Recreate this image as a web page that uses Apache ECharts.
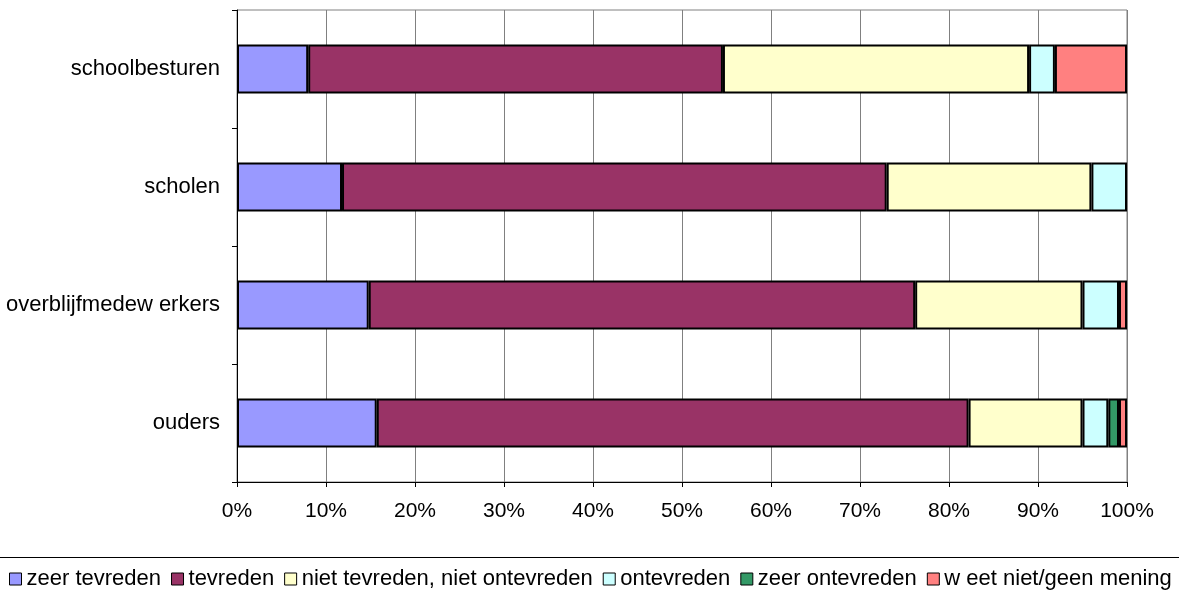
<!DOCTYPE html>
<html>
<head>
<meta charset="utf-8">
<script src="https://cdn.jsdelivr.net/npm/echarts@6/dist/echarts.min.js"></script>
<style>
  html, body { margin: 0; padding: 0; background: #fff; }
  #main { width: 1179px; height: 596px; }
</style>
</head>
<body>
<div id="main"></div>
<script>
// categories from bottom to top
var groups = ["ouders", "overblijfmedew erkers", "scholen", "schoolbesturen"];
var xTicks = [0, 10, 20, 30, 40, 50, 60, 70, 80, 90, 100];

var zeerTevreden = [15.7, 14.8, 11.8, 8.0];
var tevreden = [66.5, 61.4, 61.2, 46.6];
var nietNiet = [12.8, 18.8, 23.0, 34.4];
var ontevreden = [2.9, 4.1, 4.0, 2.9];
var zeerOntevreden = [1.2, "-", "-", "-"];
var weetNiet = [0.9, 0.9, "-", 8.1];

var seriesNames = ["zeer tevreden", "tevreden", "niet tevreden, niet ontevreden", "ontevreden", "zeer ontevreden", "w eet niet/geen mening"];
var seriesData = [zeerTevreden, tevreden, nietNiet, ontevreden, zeerOntevreden, weetNiet];
var colors = ["#9999FF", "#993366", "#FFFFCC", "#CCFFFF", "#339966", "#FF8080"];

var font = "'Liberation Sans', Arial, sans-serif";

var chart = echarts.init(document.getElementById("main"));
chart.setOption({
  animation: false,
  textStyle: { fontFamily: font },
  grid: {
    left: 237, right: 52, top: 10, bottom: 114,
    show: true, borderColor: "#808080", borderWidth: 1
  },
  legend: {
    bottom: 1,
    left: 4,
    itemWidth: 12,
    itemHeight: 12,
    itemGap: 10,
    textStyle: { fontSize: 22, color: "#000", fontFamily: font },
    data: seriesNames.map(function (n, i) {
      return { name: n, icon: "rect", itemStyle: { color: colors[i], borderColor: "#000", borderWidth: 1 } };
    })
  },
  graphic: [{
    type: "line",
    shape: { x1: 0, y1: 557.5, x2: 1179, y2: 557.5 },
    style: { stroke: "#000", lineWidth: 1.2 }
  }],
  xAxis: {
    type: "value",
    min: 0, max: 100, interval: 10,
    axisLine: { show: true, lineStyle: { color: "#000", width: 1 } },
    axisTick: { show: true, length: 5, lineStyle: { color: "#000" } },
    axisLabel: {
      fontSize: 21, color: "#000", margin: 19,
      formatter: function (v) { return xTicks.indexOf(v) >= 0 ? v + "%" : ""; }
    },
    splitLine: { show: true, lineStyle: { color: "#808080", width: 1 } }
  },
  yAxis: {
    type: "category",
    data: groups,
    axisLine: { show: true, lineStyle: { color: "#000", width: 1 } },
    axisTick: { show: true, length: 5, lineStyle: { color: "#000" } },
    axisLabel: { fontSize: 22, color: "#000", margin: 17 }
  },
  series: seriesNames.map(function (n, i) {
    return {
      name: n,
      type: "bar",
      stack: "total",
      barWidth: 49,
      data: seriesData[i],
      itemStyle: { color: colors[i], borderColor: "#000", borderWidth: 2 }
    };
  })
});
window.addEventListener("resize", function () { chart.resize(); });
</script>
</body>
</html>
